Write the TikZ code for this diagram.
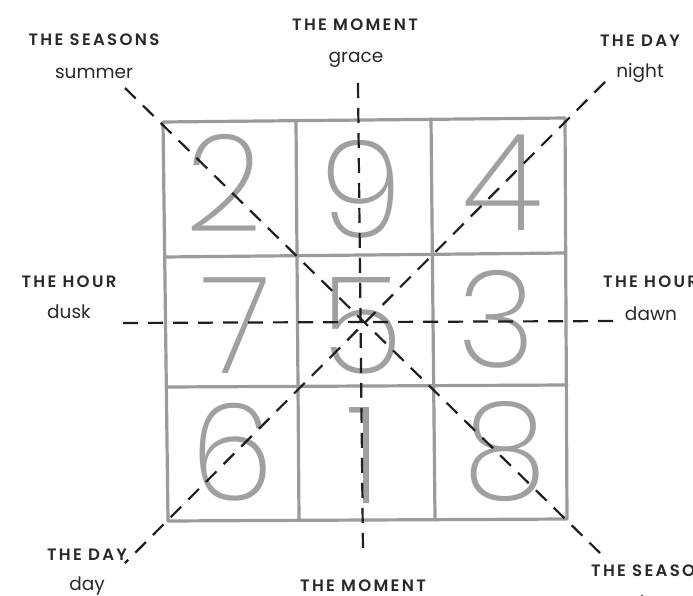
\documentclass[tikz,border=0pt]{standalone}
\usepackage{fontspec}
\setmainfont{Poppins}
\IfFontExistsTF{Poppins SemiBold}{\newfontfamily\capsfont{Poppins SemiBold}[LetterSpace=14]}{%
  \IfFontExistsTF{Poppins Medium}{\newfontfamily\capsfont{Poppins Medium}[LetterSpace=14]}{\newfontfamily\capsfont{Poppins}[LetterSpace=14,FakeBold=1.5]}}
\IfFontExistsTF{Poppins ExtraLight}{\newfontfamily\digitfont{Poppins ExtraLight}}{%
  \IfFontExistsTF{Poppins Thin}{\newfontfamily\digitfont{Poppins Thin}[FakeBold=1]}{%
    \IfFontExistsTF{Fira Sans Thin}{\newfontfamily\digitfont{Fira Sans Thin}}{\newfontfamily\digitfont{DejaVu Sans}}}}
\definecolor{gridgray}{RGB}{155,155,155}
\definecolor{digitgray}{RGB}{160,160,160}
\definecolor{labelgray}{RGB}{40,40,40}
\begin{document}
\begin{tikzpicture}[x=1pt,y=-1pt,
  grid/.style={draw=gridgray,line width=3.2pt,line cap=round,line join=round},
  guide/.style={draw=black!88,line width=2.2pt,dash pattern=on 15pt off 10pt},
  digit/.style={text=digitgray,font=\digitfont\fontsize{135}{135}\selectfont,inner sep=0pt,anchor=center},
  caps/.style={text=labelgray,font=\capsfont\fontsize{16.5}{16.5}\selectfont,inner sep=0pt,anchor=base},
  lower/.style={text=labelgray,font=\fontsize{18.5}{18.5}\selectfont,inner sep=0pt,anchor=base}]
\useasboundingbox (0,0) rectangle (693,596);
% grid corners
\coordinate (g00) at (163,122); \coordinate (g30) at (565,118);
\coordinate (g03) at (168,521); \coordinate (g33) at (567,519);
\coordinate (g10) at (296,122); \coordinate (g13) at (299,519);
\coordinate (g20) at (431,119); \coordinate (g23) at (435,518);
\coordinate (g01) at (165,257); \coordinate (g31) at (565,253);
\coordinate (g02) at (167,387); \coordinate (g32) at (567,385);
\draw[grid] (g00) -- (g30) -- (g33) -- (g03) -- cycle;
\draw[grid] (g10) -- (g13);
\draw[grid] (g20) -- (g23);
\draw[grid] (g01) -- (g31);
\draw[grid] (g02) -- (g32);
% digits
\node[digit] (d2) at (224,183) {2};
\node[digit] (d9) at (361,189) {9};
\node[digit] (d4) at (503,183) {4};
\node[digit] (d7) at (236,326) {7};
\node[digit] (d5) at (362,326) {5};
\node[digit] (d3) at (497,319) {3};
\node[digit] (d6) at (232,452) {6};
\node[digit] (d1) at (364,456) {1};
\node[digit] (d8) at (505,452) {8};
% guide ends
\coordinate (vt) at (358,83);  \coordinate (vb) at (363,552);
\coordinate (hl) at (123,323); \coordinate (hr) at (620,321);
\coordinate (nw) at (125,88);  \coordinate (se) at (600,553);
\coordinate (ne) at (605,82);  \coordinate (sw) at (125,563);
\draw[guide] (vt) -- (vb);
\draw[guide] (hl) -- (hr);
\draw[guide] (nw) -- (se);
\draw[guide] (ne) -- (sw);
% labels
\node[caps] (seasTL) at (94,46) {THE SEASONS};
\node[lower] (summer) at (94,79) {summer};
\node[caps] (momT) at (355,31) {THE MOMENT};
\node[lower] (grace) at (356,63) {grace};
\node[caps] (dayTR) at (640,47) {THE DAY};
\node[lower] (night) at (640,78) {night};
\node[caps] (hourL) at (69,287) {THE HOUR};
\node[lower] (dusk) at (69,318) {dusk};
\node[caps,anchor=base west] (hourR) at (603,287) {THE HOUR};
\node[lower] (dawn) at (651,320) {dawn};
\node[caps] (dayBL) at (87,560) {THE DAY};
\node[lower] (day) at (87,590) {day};
\node[caps] (momB) at (363,591) {THE MOMENT};
\node[caps,anchor=base west] (seasBR) at (591,576) {THE SEASONS};
\node[lower] (winter) at (653,609) {winter};
\end{tikzpicture}
\end{document}
